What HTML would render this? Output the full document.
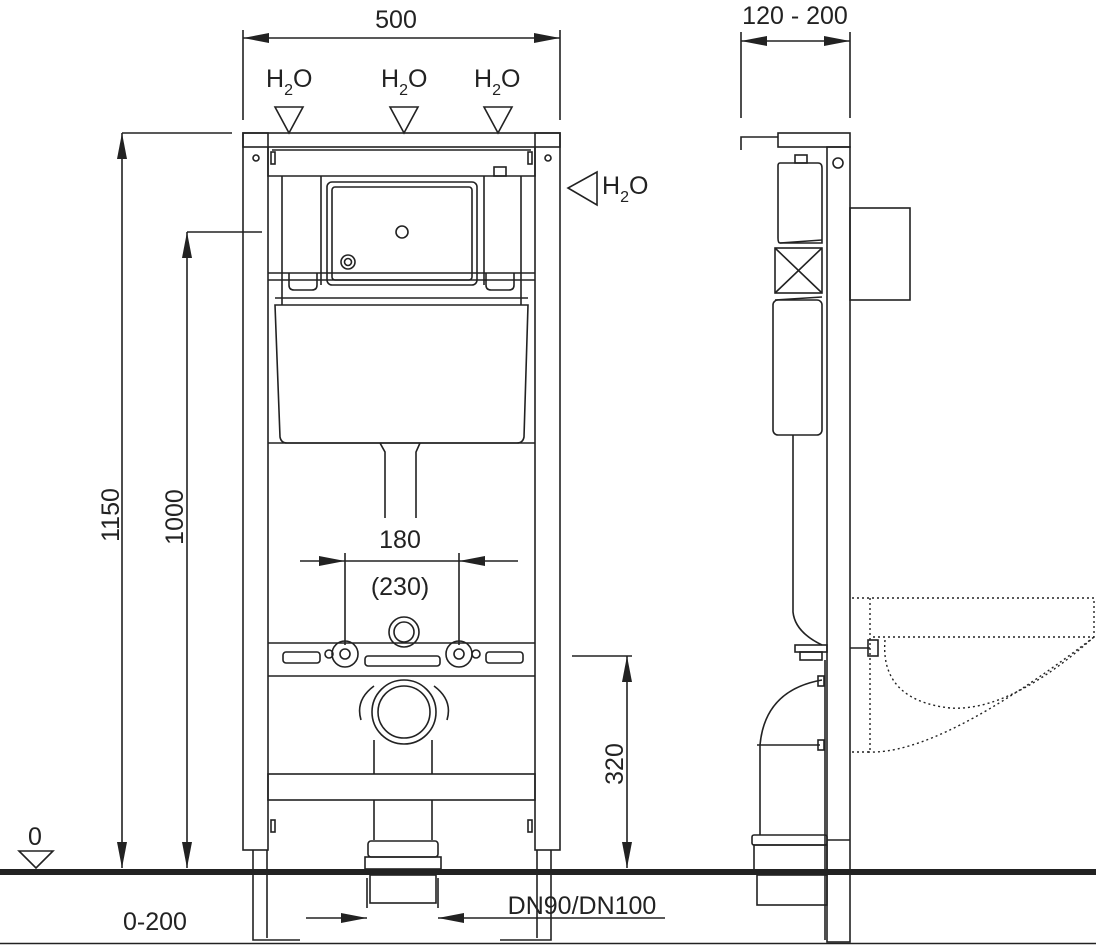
<!DOCTYPE html>
<html><head><style>html,body{margin:0;padding:0;background:#fff}svg{display:block}text{font-family:"Liberation Sans",sans-serif;fill:#222}</style></head>
<body>
<svg width="1096" height="945" viewBox="0 0 1096 945" xmlns="http://www.w3.org/2000/svg">
<defs>
<marker id="a" viewBox="0 0 26 10" refX="26" refY="5" markerWidth="26" markerHeight="10" markerUnits="userSpaceOnUse" orient="auto-start-reverse"><path d="M0,0L26,5L0,10z" fill="#222"/></marker>
</defs>
<g stroke="#222" stroke-width="1.6" fill="none">
<line x1="243" y1="30" x2="243" y2="120"/><line x1="560" y1="30" x2="560" y2="120"/>
<line x1="243" y1="38" x2="560" y2="38" marker-start="url(#a)" marker-end="url(#a)"/>
<path d="M275,107L303,107L289,133z"/><path d="M390,107L418,107L404,133z"/><path d="M484,107L512,107L498,133z"/>
<path d="M597,172L597,205L568,188z"/>
<line x1="122" y1="133" x2="232" y2="133"/>
<line x1="122" y1="868" x2="122" y2="133" marker-end="url(#a)" marker-start="url(#a)"/>
<line x1="187" y1="232" x2="262" y2="232"/>
<line x1="187" y1="868" x2="187" y2="232" marker-end="url(#a)" marker-start="url(#a)"/>
<line x1="572" y1="656" x2="632" y2="656"/>
<line x1="627" y1="868" x2="627" y2="656" marker-end="url(#a)" marker-start="url(#a)"/>
<line x1="345" y1="553" x2="345" y2="645"/><line x1="459" y1="553" x2="459" y2="645"/>
<line x1="300" y1="561" x2="345" y2="561" marker-end="url(#a)"/>
<line x1="518" y1="561" x2="459" y2="561" marker-end="url(#a)"/>
<line x1="345" y1="561" x2="459" y2="561"/>
<line x1="367" y1="878" x2="367" y2="908"/><line x1="438" y1="878" x2="438" y2="908"/>
<line x1="306" y1="918" x2="367" y2="918" marker-end="url(#a)"/>
<line x1="665" y1="918" x2="438" y2="918" marker-end="url(#a)"/>
<path d="M19,851L53,851L36,868z"/>

<rect x="243" y="133" width="317" height="14"/>
<rect x="243" y="133" width="25" height="717"/>
<rect x="535" y="133" width="25" height="717"/>
<path d="M268,147V176H535V147"/>
<line x1="272" y1="150" x2="531" y2="150"/>
<circle cx="256" cy="158" r="3"/><circle cx="548" cy="158" r="3"/>
<rect x="271" y="152" width="4" height="12"/><rect x="528" y="152" width="4" height="12"/>
<rect x="494" y="167" width="12" height="9"/>
<line x1="282" y1="176" x2="282" y2="305"/><line x1="521" y1="176" x2="521" y2="305"/>
<line x1="321" y1="176" x2="321" y2="285"/><line x1="484" y1="176" x2="484" y2="285"/>
<rect x="327" y="182" width="150" height="103" rx="5"/>
<rect x="332" y="187" width="140" height="93" rx="3"/>
<circle cx="402" cy="232" r="6"/><circle cx="348" cy="262" r="7"/><circle cx="348" cy="262" r="3.5"/>
<line x1="268" y1="273" x2="535" y2="273"/><line x1="268" y1="280" x2="535" y2="280"/>
<path d="M289,273v12q0,5 5,5h18q5,0 5,-5v-12"/><path d="M486,273v12q0,5 5,5h18q5,0 5,-5v-12"/>
<line x1="275" y1="298" x2="528" y2="298"/>
<path d="M275,305L280,437Q281,443 287,443H517Q523,443 524,437L528,305Z"/>
<path d="M268,443H535"/>
<path d="M380,443L385,452V518M420,443L416,452V518"/>
<circle cx="404" cy="632" r="15"/><circle cx="404" cy="632" r="10"/>
<line x1="268" y1="643" x2="535" y2="643"/><line x1="268" y1="676" x2="535" y2="676"/>
<rect x="283" y="652" width="37" height="11" rx="3"/><rect x="486" y="652" width="37" height="11" rx="3"/>
<rect x="365" y="656" width="75" height="10" rx="3"/>
<circle cx="345" cy="654" r="13"/><circle cx="345" cy="654" r="5"/>
<circle cx="459" cy="654" r="13"/><circle cx="459" cy="654" r="5"/>
<circle cx="329" cy="654" r="4"/><circle cx="476" cy="654" r="4"/>
<circle cx="404" cy="712" r="32"/><circle cx="404" cy="712" r="26"/>
<path d="M374,686Q355,700 361,720M434,686Q453,700 447,720"/>
<path d="M374,740V774M432,740V774"/>
<rect x="268" y="774" width="267" height="26"/>
<path d="M374,800V840M432,800V840"/>
<rect x="368" y="841" width="70" height="16" rx="3"/>
<rect x="365" y="857" width="76" height="12"/>
<rect x="370" y="875" width="66" height="28"/>
<rect x="271" y="820" width="4" height="12"/><rect x="528" y="820" width="4" height="12"/>
<path d="M253,850V940H300M267,850V938"/>
<path d="M537,850V938M551,850V940H500"/>

<line x1="741" y1="32" x2="741" y2="118"/><line x1="850" y1="32" x2="850" y2="118"/>
<line x1="741" y1="41" x2="850" y2="41" marker-start="url(#a)" marker-end="url(#a)"/>
<path d="M741,150V137H778"/>
<rect x="778" y="133" width="72" height="14"/>
<rect x="827" y="147" width="23" height="795"/>
<circle cx="838" cy="163" r="5"/>
<rect x="850" y="208" width="60" height="92"/>
<rect x="795" y="155" width="12" height="8"/>
<path d="M780,163H818Q822,163 822,168V243H780Q778,243 778,238V166Q778,163 780,163Z"/>
<rect x="775" y="248" width="47" height="45"/>
<path d="M775,248L822,293M822,248L775,293"/>
<path d="M780,243L822,240M775,300L822,297"/>
<rect x="773" y="300" width="49" height="135" rx="5"/>
<path d="M793,435V612Q795,632 822,645"/>
<rect x="795" y="645" width="32" height="7"/><rect x="800" y="652" width="22" height="8"/>
<line x1="850" y1="648" x2="870" y2="648"/><rect x="868" y="640" width="10" height="16"/>
<path d="M822,680Q765,690 760,745V835"/>
<line x1="757" y1="745" x2="820" y2="745"/>
<rect x="818" y="676" width="6" height="10"/><rect x="818" y="740" width="6" height="10"/>
<line x1="825" y1="660" x2="825" y2="940"/>
<rect x="752" y="835" width="75" height="10" rx="2"/>
<rect x="754" y="845" width="73" height="25"/>
<rect x="757" y="875" width="70" height="30"/>
<path d="M827,840H850"/>
</g>
<g stroke="#222" stroke-width="1.4" fill="none" stroke-dasharray="2,3">
<path d="M852,598H1094V637H870"/>
<path d="M870,598V752H852"/>
<path d="M868,752Q940,755 1094,637"/>
<path d="M885,640Q880,700 950,708Q1010,712 1094,637"/>
</g>
<rect x="0" y="869" width="1096" height="6" fill="#222"/>
<line x1="0" y1="943.5" x2="1096" y2="943.5" stroke="#222" stroke-width="1.4"/>
<text x="396" y="28" font-size="25" text-anchor="middle">500</text>
<text x="795" y="24" font-size="25" text-anchor="middle">120 - 200</text>
<g font-size="25"><text x="266" y="87">H<tspan font-size="16" dy="8">2</tspan><tspan dy="-8">O</tspan></text>
<text x="381" y="87">H<tspan font-size="16" dy="8">2</tspan><tspan dy="-8">O</tspan></text>
<text x="474" y="87">H<tspan font-size="16" dy="8">2</tspan><tspan dy="-8">O</tspan></text>
<text x="602" y="194">H<tspan font-size="16" dy="8">2</tspan><tspan dy="-8">O</tspan></text></g>
<text x="400" y="548" font-size="25" text-anchor="middle">180</text>
<text x="400" y="595" font-size="25" text-anchor="middle">(230)</text>
<text transform="translate(119,515) rotate(-90)" font-size="25" text-anchor="middle">1150</text>
<text transform="translate(183,517) rotate(-90)" font-size="25" text-anchor="middle">1000</text>
<text transform="translate(623,764) rotate(-90)" font-size="25" text-anchor="middle">320</text>
<text x="35" y="845" font-size="25" text-anchor="middle">0</text>
<text x="155" y="930" font-size="25" text-anchor="middle">0-200</text>
<text x="582" y="914" font-size="25" text-anchor="middle">DN90/DN100</text>
</svg>
</body></html>
